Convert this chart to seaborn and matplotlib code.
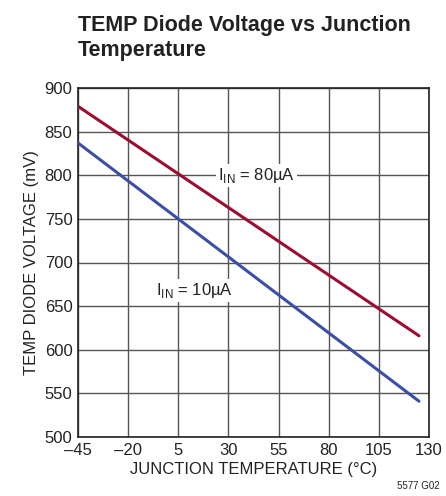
import numpy as np
import pandas as pd
import matplotlib
matplotlib.use('Agg')
import matplotlib.pyplot as plt
import seaborn as sns

# datos
temp_c = [-45, 125]
v_80ua = [879, 616]
v_10ua = [837, 541]

x_ticks = [-45, -20, 5, 30, 55, 80, 105, 130]
y_ticks = [500, 550, 600, 650, 700, 750, 800, 850, 900]

df = pd.DataFrame({
    'temp': temp_c * 2,
    'mv': v_80ua + v_10ua,
    'serie': ['80'] * 2 + ['10'] * 2,
})

sns.set_style('white')
plt.rcParams['font.family'] = ['Liberation Sans', 'DejaVu Sans']

fig = plt.figure(figsize=(4.46, 4.96), dpi=100)
ax = fig.add_axes([78 / 446, 1 - 437 / 496, 351 / 446, 349 / 496])

sns.lineplot(data=df, x='temp', y='mv', hue='serie',
             palette={'80': '#9b0d31', '10': '#3b4fa3'},
             linewidth=2.2, legend=False, ax=ax, zorder=3)

ax.set_xlim(-45, 130)
ax.set_ylim(500, 900)
ax.set_xticks(x_ticks)
ax.set_yticks(y_ticks)
ax.set_xticklabels([str(t).replace('-', '\u2013') for t in x_ticks])
ax.grid(True, color='#555555', linewidth=1.0)
ax.tick_params(axis='both', length=0, labelsize=12, pad=4, colors='#222222')
for s in ax.spines.values():
    s.set_color('#222222')
    s.set_linewidth(1.2)

ax.set_xlabel('JUNCTION TEMPERATURE (°C)', fontsize=12, color='#222222', labelpad=3)
ax.set_ylabel('TEMP DIODE VOLTAGE (mV)', fontsize=12, color='#222222', labelpad=4)

ax.text(44, 800, r'I$_{\mathregular{IN}}$ = 80µA', fontsize=12, ha='center', va='center',
        color='#222222', zorder=4,
        bbox=dict(facecolor='white', edgecolor='none', pad=1.5))
ax.text(13, 668, r'I$_{\mathregular{IN}}$ = 10µA', fontsize=12, ha='center', va='center',
        color='#222222', zorder=4,
        bbox=dict(facecolor='white', edgecolor='none', pad=1.5))

fig.text(78 / 446, 1 - 38 / 496, 'TEMP Diode Voltage vs Junction\nTemperature',
         fontsize=15.5, fontweight='bold', ha='left', va='center', color='#222222',
         linespacing=1.2)
fig.text(440 / 446, 1 - 486 / 496, '5577 G02', fontsize=7, ha='right', va='center',
         color='#222222')

fig.savefig('out.png', dpi=100)
